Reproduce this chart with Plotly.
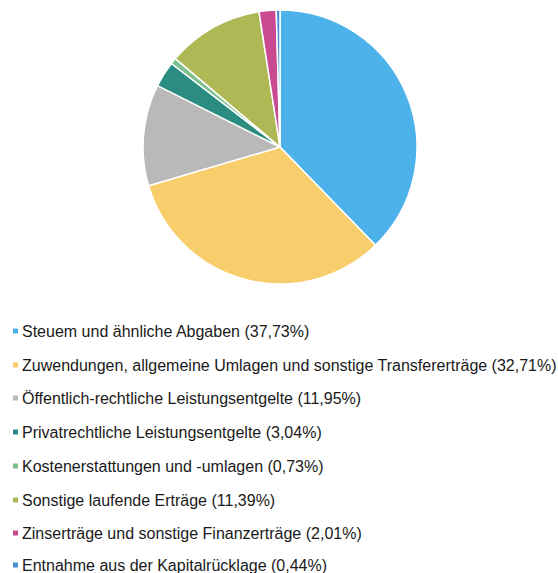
import plotly.graph_objects as go

labels = [
    "Steuern und ähnliche Abgaben",
    "Zuwendungen, allgemeine Umlagen und sonstige Transfererträge",
    "Öffentlich-rechtliche Leistungsentgelte",
    "Privatrechtliche Leistungsentgelte",
    "Kostenerstattungen und -umlagen",
    "Sonstige laufende Erträge",
    "Zinserträge und sonstige Finanzerträge",
    "Entnahme aus der Kapitalrücklage",
]
legend_texts = [
    "Steuem und ähnliche Abgaben (37,73%)",
    "Zuwendungen, allgemeine Umlagen und sonstige Transfererträge (32,71%)",
    "Öffentlich-rechtliche Leistungsentgelte (11,95%)",
    "Privatrechtliche Leistungsentgelte (3,04%)",
    "Kostenerstattungen und -umlagen (0,73%)",
    "Sonstige laufende Erträge (11,39%)",
    "Zinserträge und sonstige Finanzerträge (2,01%)",
    "Entnahme aus der Kapitalrücklage (0,44%)",
]
values = [37.73, 32.71, 11.95, 3.04, 0.73, 11.39, 2.01, 0.44]
colors = ["#4DB2EA", "#F8CE6C", "#B9B9B9", "#2B8C82", "#7DC08E", "#AEB955", "#C94A90", "#4A8ED6"]

W, H = 558, 573
cx, cy, r = 280, 147, 137

fig = go.Figure(go.Pie(
    labels=labels, values=values, sort=False, direction="clockwise", rotation=0,
    marker=dict(colors=colors, line=dict(color="white", width=1.5)),
    textinfo="none", hoverinfo="label+percent", showlegend=False,
    domain=dict(x=[(cx - r) / W, (cx + r) / W], y=[(H - cy - r) / H, (H - cy + r) / H]),
))

row_y = [331, 365, 398, 432, 466, 500, 533, 565]
for txt, col, y in zip(legend_texts, colors, row_y):
    fig.add_shape(type="rect", xref="paper", yref="paper",
                  x0=13 / W, x1=18 / W, y0=(H - y - 2.5) / H, y1=(H - y + 2.5) / H,
                  fillcolor=col, line=dict(width=0))
    fig.add_annotation(xref="paper", yref="paper", x=20 / W, y=(H - y) / H,
                       xanchor="left", yanchor="middle", showarrow=False, text=txt,
                       font=dict(family="Liberation Sans, Arial", size=16, color="#1a1a1a"))

fig.update_layout(width=W, height=H, margin=dict(l=0, r=0, t=0, b=0),
                  paper_bgcolor="white", plot_bgcolor="white")
fig.write_html("out.html", config={"displayModeBar": False},
               post_script="document.body.style.margin='0';document.body.style.overflow='hidden';")
